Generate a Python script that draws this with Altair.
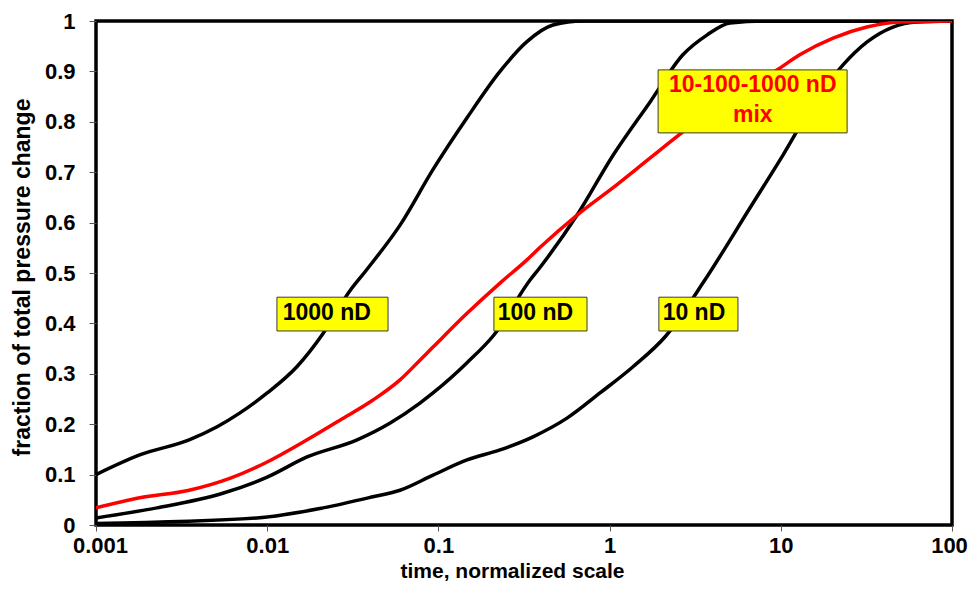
import altair as alt
import pandas as pd

# ---- data ----
t_1000 = [0.001, 0.0018, 0.0035, 0.0051, 0.0069, 0.01, 0.0149, 0.0212, 0.030, 0.0378,
          0.0597, 0.0929, 0.147, 0.229, 0.329, 0.467, 0.7, 1, 100]
v_1000 = [0.10, 0.139, 0.169, 0.195, 0.222, 0.262, 0.314, 0.38, 0.462, 0.505,
          0.595, 0.705, 0.808, 0.90, 0.959, 0.992, 1.0, 1.0, 1.0]

t_100 = [0.001, 0.00227, 0.0055, 0.01, 0.0171, 0.0335, 0.052, 0.078, 0.093, 0.147,
         0.211, 0.343, 0.39, 0.646, 1.05, 1.72, 2.68, 3.7, 5.05, 8, 100]
v_100 = [0.014, 0.034, 0.063, 0.095, 0.135, 0.169, 0.202, 0.242, 0.262, 0.322,
         0.377, 0.486, 0.51, 0.615, 0.734, 0.839, 0.933, 0.972, 0.996, 1.0, 1.0]

t_10 = [0.001, 0.0087, 0.0212, 0.0415, 0.0597, 0.093, 0.147, 0.229, 0.357, 0.564,
        0.879, 1.37, 2.13, 3.6, 6.6, 10.3, 16.3, 23.1, 31.8, 45.2, 62.4, 100]
v_10 = [0.003, 0.014, 0.034, 0.056, 0.069, 0.099, 0.129, 0.149, 0.175, 0.212,
        0.262, 0.314, 0.375, 0.486, 0.629, 0.734, 0.847, 0.913, 0.958, 0.988, 0.998, 1.0]

t_mix = [0.001, 0.0018, 0.0035, 0.0061, 0.01, 0.0171, 0.0266, 0.0415, 0.0597, 0.078,
         0.093, 0.147, 0.229, 0.329, 0.39, 0.646, 1.1, 1.72, 2.68, 4, 6, 9.5,
         12.9, 20.2, 31.8, 49.7, 100]
v_mix = [0.034, 0.054, 0.069, 0.093, 0.125, 0.169, 0.208, 0.248, 0.288, 0.327,
         0.353, 0.42, 0.48, 0.526, 0.55, 0.615, 0.675, 0.728, 0.78, 0.825, 0.865, 0.903,
         0.933, 0.966, 0.988, 0.998, 1.0]

series_names = ["1000 nD", "100 nD", "10 nD", "10-100-1000 nD mix"]
series_colors = ["#000000", "#000000", "#000000", "#FF0000"]

# annotation boxes (data coordinates)
ann_text = ["1000 nD", "100 nD", "10 nD", "10-100-1000 nD\nmix"]
ann_text_color = ["#000000", "#000000", "#000000", "#FF0000"]
ann_x_left = [0.0114, 0.211, 1.94, 1.92]
ann_x_right = [0.0508, 0.738, 5.62, 24.4]
ann_y_bottom = [0.385, 0.385, 0.385, 0.778]
ann_y_top = [0.452, 0.452, 0.452, 0.903]
ann_x_center = [0.0223, 0.369, 3.11, 6.86]
ann_y_center = [0.4206, 0.4206, 0.4206, 0.873]

x_ticks = [0.001, 0.01, 0.1, 1, 10, 100]
y_ticks = [0, 0.1, 0.2, 0.3, 0.4, 0.5, 0.6, 0.7, 0.8, 0.9, 1]

# ---- build tables ----
rows = []
for name, ts, vs in zip(series_names, [t_1000, t_100, t_10, t_mix], [v_1000, v_100, v_10, v_mix]):
    for t, v in zip(ts, vs):
        rows.append({"series": name, "t": t, "v": v})
df = pd.DataFrame(rows)
df_black = df[df.series != "10-100-1000 nD mix"]
df_red = df[df.series == "10-100-1000 nD mix"]

ann = pd.DataFrame({
    "label": ann_text, "tcolor": ann_text_color,
    "x1": ann_x_left, "x2": ann_x_right, "y1": ann_y_bottom, "y2": ann_y_top,
    "xc": ann_x_center, "yc": ann_y_center,
})

FONT = "Liberation Sans"
xscale = alt.Scale(type="log", domain=[0.001, 100], nice=False)
yscale = alt.Scale(domain=[0, 1], nice=False, zero=False)
cscale = alt.Scale(domain=series_names, range=series_colors)

x_axis = alt.Axis(values=x_ticks, format="~g", title="time, normalized scale",
                  labelFont=FONT, labelFontSize=22, labelFontWeight="bold", labelColor="black",
                  titleFont=FONT, titleFontSize=21, titleFontWeight="bold", titleColor="black",
                  tickSize=6, tickColor="#555555", labelPadding=4, domain=False, grid=False,
                  labelFlush=False, labelOverlap=False,
                  labelOffset={"condition": [{"test": "datum.value >= 100", "value": -3},
                                             {"test": "datum.value <= 0.001", "value": 4}],
                               "value": 0},
                  titleX=416, titleY=52, titleBaseline="alphabetic", titleAlign="center")
y_axis = alt.Axis(values=y_ticks, format="~g", title="fraction of total pressure change",
                  labelFont=FONT, labelFontSize=22, labelFontWeight="bold", labelColor="black",
                  titleFont=FONT, titleFontSize=23, titleFontWeight="bold", titleColor="black",
                  tickSize=7, tickColor="#555555", labelPadding=14, domain=False, grid=False,
                  labelFlush=False, labelOverlap=False,
                  titleX=-74, titleY=256, titleAngle=270, titleAlign="center", titleBaseline="middle")

black_lines = alt.Chart(df_black).mark_line(interpolate="monotone", strokeWidth=3.5, clip=True).encode(
    x=alt.X("t:Q", scale=xscale, axis=x_axis),
    y=alt.Y("v:Q", scale=yscale, axis=y_axis),
    color=alt.Color("series:N", scale=cscale, legend=None),
    detail="series:N",
)
red_line = alt.Chart(df_red).mark_line(interpolate="monotone", strokeWidth=3.5, clip=True).encode(
    x=alt.X("t:Q", scale=xscale),
    y=alt.Y("v:Q", scale=yscale),
    color=alt.Color("series:N", scale=cscale, legend=None),
)
boxes = alt.Chart(ann).mark_rect(fill="#FFFF00", stroke="#3a3a3a", strokeWidth=1).encode(
    x=alt.X("x1:Q", scale=xscale), x2="x2:Q",
    y=alt.Y("y1:Q", scale=yscale), y2="y2:Q",
)
texts = alt.Chart(ann).mark_text(font=FONT, fontWeight="bold", fontSize=23, align="center",
                                 baseline="middle", lineBreak="\n", lineHeight=30).encode(
    x=alt.X("xc:Q", scale=xscale),
    y=alt.Y("yc:Q", scale=yscale),
    text="label:N",
    color=alt.Color("tcolor:N", scale=None),
)

chart = alt.layer(black_lines, red_line, boxes, texts).properties(
    width=856, height=504,
    autosize=alt.AutoSizeParams(type="none"),
    padding={"left": 88, "top": 13, "right": 16, "bottom": 57},
    background="white",
).configure_view(stroke="black", strokeWidth=3.5)

chart.save("out.html", embed_options={"renderer": "svg", "actions": False})
